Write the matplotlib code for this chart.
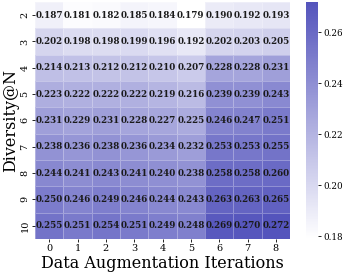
import numpy as np
import matplotlib
matplotlib.use("Agg")
import matplotlib.pyplot as plt
from matplotlib.colors import LinearSegmentedColormap

iterations = [0, 1, 2, 3, 4, 5, 6, 7, 8]
diversity_n = [2, 3, 4, 5, 6, 7, 8, 9, 10]

row_2 = [0.187, 0.181, 0.182, 0.185, 0.184, 0.179, 0.190, 0.192, 0.193]
row_3 = [0.202, 0.198, 0.198, 0.199, 0.196, 0.192, 0.202, 0.203, 0.205]
row_4 = [0.214, 0.213, 0.212, 0.212, 0.210, 0.207, 0.228, 0.228, 0.231]
row_5 = [0.223, 0.222, 0.222, 0.222, 0.219, 0.216, 0.239, 0.239, 0.243]
row_6 = [0.231, 0.229, 0.231, 0.228, 0.227, 0.225, 0.246, 0.247, 0.251]
row_7 = [0.238, 0.236, 0.238, 0.236, 0.234, 0.232, 0.253, 0.253, 0.255]
row_8 = [0.244, 0.241, 0.243, 0.241, 0.240, 0.238, 0.258, 0.258, 0.260]
row_9 = [0.250, 0.246, 0.249, 0.246, 0.244, 0.243, 0.263, 0.263, 0.265]
row_10 = [0.255, 0.251, 0.254, 0.251, 0.249, 0.248, 0.269, 0.270, 0.272]

vals = np.array([row_2, row_3, row_4, row_5, row_6, row_7, row_8, row_9, row_10])

cmap = LinearSegmentedColormap.from_list("wb", ["#ffffff", "#5454bc"])
plt.rcParams["font.family"] = "DejaVu Serif"

fig = plt.figure(figsize=(3.44, 2.74), dpi=100)
ax = fig.add_axes([0.102, 0.128, 0.741, 0.865])
cax = fig.add_axes([0.890, 0.128, 0.035, 0.865])

im = ax.pcolormesh(np.arange(10) - 0.5, np.arange(10) - 0.5, vals, cmap=cmap,
                   vmin=vals.min(), vmax=vals.max(),
                   edgecolor=(1, 1, 1, 0.3), linewidth=0.5)
ax.set_xlim(-0.5, 8.5)
ax.set_ylim(8.5, -0.5)
for i in range(len(diversity_n)):
    for j in range(len(iterations)):
        ax.text(j, i, f"{vals[i, j]:.3f}", ha="center", va="center",
                fontsize=6.3, fontweight="bold", color="#1a1a1a")

ax.set_xticks(range(len(iterations)))
ax.set_xticklabels([str(v) for v in iterations], fontsize=7)
ax.set_yticks(range(len(diversity_n)))
ax.set_yticklabels([str(v) for v in diversity_n], fontsize=7, rotation=90, va="center")
ax.tick_params(length=2.5, width=0.6, pad=1.5)
for s in ax.spines.values():
    s.set_visible(False)
ax.set_xlabel("Data Augmentation Iterations", fontsize=11.5, labelpad=1)
ax.set_ylabel("Diversity@N", fontsize=11.5, labelpad=1)

cb = fig.colorbar(im, cax=cax, ticks=[0.18, 0.20, 0.22, 0.24, 0.26])
cb.outline.set_visible(False)
cb.ax.tick_params(labelsize=6.3, length=2.5, width=0.6, pad=1.5)
cb.ax.set_yticklabels(["0.18", "0.20", "0.22", "0.24", "0.26"])

fig.savefig("out.png", dpi=100)
